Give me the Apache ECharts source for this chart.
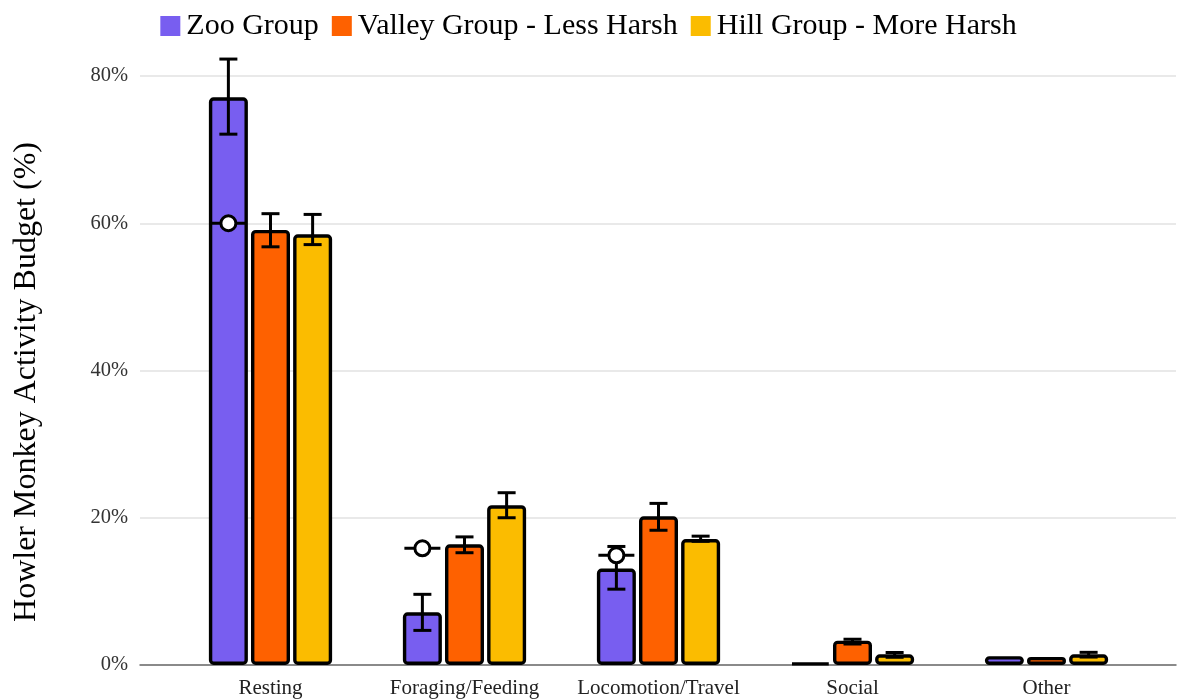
<!DOCTYPE html>
<html>
<head>
<meta charset="utf-8">
<script src="https://cdn.jsdelivr.net/npm/echarts@6/dist/echarts.min.js"></script>
<style>
html,body{margin:0;padding:0;background:#fff;}
#chart{width:1177px;height:700px;}
</style>
</head>
<body>
<div id="chart"></div>
<script>
const categories = ['Resting', 'Foraging/Feeding', 'Locomotion/Travel', 'Social', 'Other'];
const seriesNames = ['Zoo Group', 'Valley Group - Less Harsh', 'Hill Group - More Harsh'];
const seriesColors = ['#785EF0', '#FE6100', '#FBBC00'];

const zooValues    = [77.1, 7.15, 13.1, 0.3, 1.2];
const valleyValues = [59.1, 16.4, 20.2, 3.3, 1.1];
const hillValues   = [58.5, 21.7, 17.1, 1.45, 1.45];

const zooErrLow     = [72.1, 4.7, 10.3, null, null];
const zooErrHigh    = [82.3, 9.6, 16.1, null, null];
const valleyErrLow  = [56.8, 15.25, 18.3, 2.85, null];
const valleyErrHigh = [61.3, 17.4, 21.95, 3.5, null];
const hillErrLow    = [57.1, 20.0, 16.8, 1.05, 1.08];
const hillErrHigh   = [61.2, 23.4, 17.5, 1.7, 1.72];

const zooReference = [60, 15.85, 14.9, null, null];

const yMin = 0, yMax = 80, yInterval = 20;

const FONT = "'Liberation Serif', 'Times New Roman', serif";
const BAR_WIDTH = 39, BAR_GAP = '8%';

const values = [zooValues, valleyValues, hillValues];
const errLows = [zooErrLow, valleyErrLow, hillErrLow];
const errHighs = [zooErrHigh, valleyErrHigh, hillErrHigh];

const errData = [];
errLows.forEach((lows, s) => {
  lows.forEach((lo, i) => {
    if (lo != null && errHighs[s][i] != null) errData.push([i, lo, errHighs[s][i], s]);
  });
});
const refData = [];
zooReference.forEach((v, i) => { if (v != null) refData.push([i, v, 0]); });

const chart = echarts.init(document.getElementById('chart'), null, {renderer: 'canvas'});

const barSeries = seriesNames.map((name, s) => ({
  name: name,
  type: 'bar',
  xAxisIndex: 1,
  yAxisIndex: 1,
  barWidth: BAR_WIDTH,
  barGap: BAR_GAP,
  z: 2,
  itemStyle: {color: seriesColors[s], borderColor: '#000', borderWidth: 3.4, borderRadius: 3},
  emphasis: {disabled: true},
  data: values[s]
}));

option = {
  animation: false,
  backgroundColor: '#fff',
  legend: {
    top: 6,
    left: 'center',
    itemWidth: 20,
    itemHeight: 20,
    itemGap: 13,
    icon: 'rect',
    itemStyle: {borderWidth: 0},
    textStyle: {fontFamily: FONT, fontSize: 30, color: '#000', padding: [0, 0, 0, 1]},
    data: seriesNames
  },
  grid: [
    {left: 140, right: 1, top: 76, bottom: 35},
    {left: 173.5, right: 33.5, top: 76, bottom: 35}
  ],
  xAxis: [
    {
      type: 'category', gridIndex: 0, data: [''],
      axisLine: {show: true, lineStyle: {color: '#6b6b6b', width: 1.5}},
      axisTick: {show: false}, axisLabel: {show: false}, splitLine: {show: false}
    },
    {
      type: 'category', gridIndex: 1, data: categories,
      axisLine: {show: false}, axisTick: {show: false},
      axisLabel: {interval: 0, hideOverlap: false, fontFamily: FONT, fontSize: 21, color: '#222', margin: 13}
    }
  ],
  yAxis: [
    {
      type: 'value', gridIndex: 0, min: yMin, max: yMax, interval: yInterval,
      axisLine: {show: false}, axisTick: {show: false},
      axisLabel: {formatter: '{value}%', fontFamily: FONT, fontSize: 20.5, color: '#333', margin: 12, padding: [4, 0, 0, 0]},
      splitLine: {lineStyle: {color: '#e2e2e2', width: 1.5}}
    },
    {
      type: 'value', gridIndex: 1, min: yMin, max: yMax, interval: yInterval, show: false,
      splitLine: {show: false}
    }
  ],
  graphic: [{
    type: 'text',
    x: 27, y: 382,
    rotation: Math.PI / 2,
    style: {
      text: 'Howler Monkey Activity Budget (%)',
      font: "32px 'Liberation Serif', 'Times New Roman', serif",
      fill: '#000',
      align: 'center',
      verticalAlign: 'middle'
    }
  }],
  series: barSeries.concat([
    {
      type: 'custom',
      xAxisIndex: 1, yAxisIndex: 1,
      z: 5,
      silent: true,
      encode: {x: 0, y: [1, 2]},
      data: errData,
      renderItem: function (params, api) {
        const cat = api.value(0), lo = api.value(1), hi = api.value(2), s = api.value(3);
        const layout = api.barLayout({count: 3, barWidth: BAR_WIDTH, barGap: BAR_GAP});
        const pLo = api.coord([cat, lo]);
        const pHi = api.coord([cat, hi]);
        const x = pLo[0] + layout[s].offsetCenter;
        const half = 9;
        const st = {stroke: '#000', lineWidth: 3};
        return {
          type: 'group',
          children: [
            {type: 'line', shape: {x1: x, y1: pLo[1], x2: x, y2: pHi[1]}, style: st},
            {type: 'line', shape: {x1: x - half, y1: pLo[1], x2: x + half, y2: pLo[1]}, style: st},
            {type: 'line', shape: {x1: x - half, y1: pHi[1], x2: x + half, y2: pHi[1]}, style: st}
          ]
        };
      }
    },
    {
      type: 'custom',
      xAxisIndex: 1, yAxisIndex: 1,
      z: 6,
      silent: true,
      encode: {x: 0, y: 1},
      data: refData,
      renderItem: function (params, api) {
        const cat = api.value(0), v = api.value(1), s = api.value(2);
        const layout = api.barLayout({count: 3, barWidth: BAR_WIDTH, barGap: BAR_GAP});
        const p = api.coord([cat, v]);
        const x = p[0] + layout[s].offsetCenter;
        return {
          type: 'group',
          children: [
            {type: 'line', shape: {x1: x - 18, y1: p[1], x2: x + 18, y2: p[1]}, style: {stroke: '#000', lineWidth: 3}},
            {type: 'circle', shape: {cx: x, cy: p[1], r: 7.5}, style: {fill: '#fff', stroke: '#000', lineWidth: 3}}
          ]
        };
      }
    }
  ])
};
chart.setOption(option);
</script>
</body>
</html>
